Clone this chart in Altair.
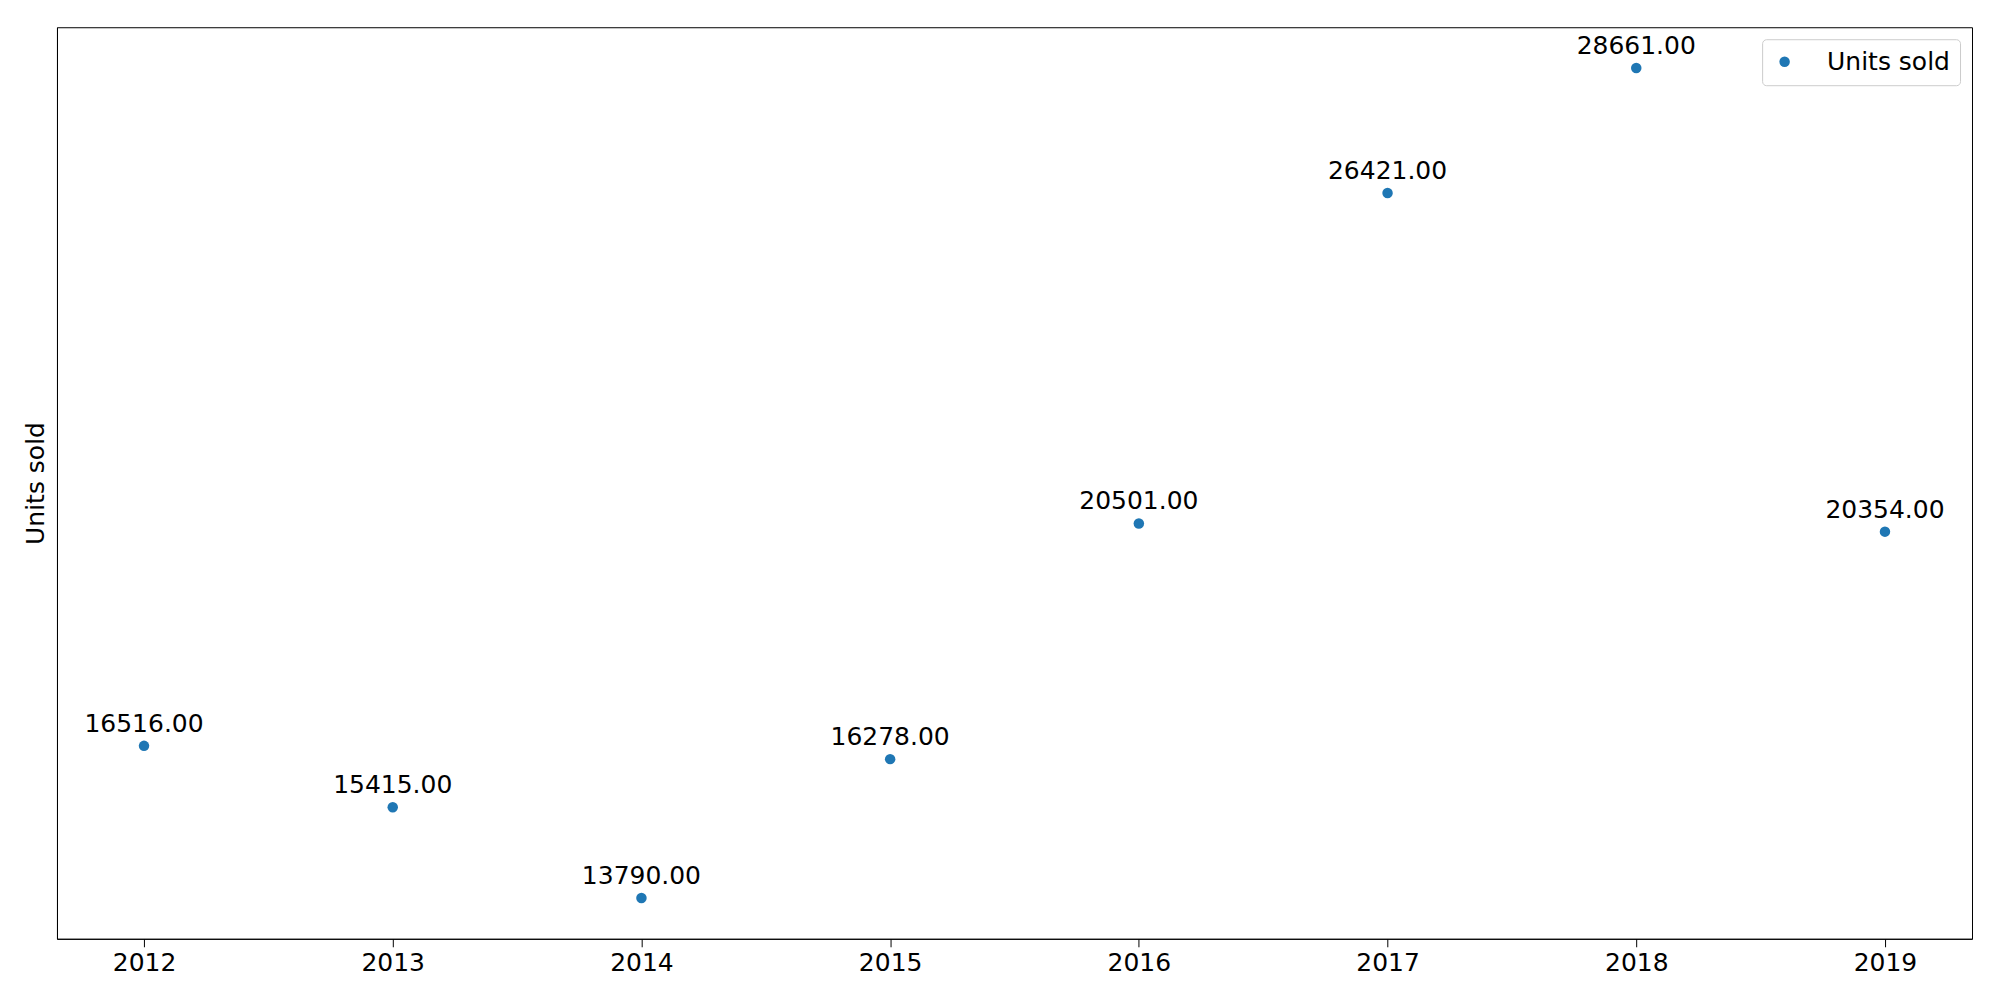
import altair as alt
import pandas as pd

years = [2012, 2013, 2014, 2015, 2016, 2017, 2018, 2019]
units = [16516, 15415, 13790, 16278, 20501, 26421, 28661, 20354]

df = pd.DataFrame({"year": years, "units": units, "series": ["Units sold"] * len(years)})

base = alt.Chart(df).encode(
    x=alt.X("year:Q", scale=alt.Scale(domain=[2011.65, 2019.35], nice=False, zero=False),
            axis=alt.Axis(values=years, format="d", grid=False, title=None,
                          labelFontSize=25, labelColor="black", tickColor="black",
                          domainColor="black", tickSize=8, labelPadding=4)),
    y=alt.Y("units:Q", scale=alt.Scale(domain=[13059, 29392], nice=False, zero=False),
            axis=alt.Axis(title="Units sold", titleFontSize=25, titleFontWeight="normal",
                          titleColor="black", labels=False, ticks=False, grid=False,
                          domainColor="black", titlePadding=8)),
)

pts = base.mark_point(filled=True, size=110, opacity=1).encode(
    color=alt.Color("series:N", scale=alt.Scale(range=["#1f77b4"]),
                    legend=alt.Legend(title=None, orient="top-right", labelFontSize=25,
                                      labelColor="black", symbolSize=110, symbolType="circle",
                                      strokeColor="#cccccc", cornerRadius=4, padding=10,
                                      fillColor="white", offset=12, labelOffset=30))
)

labels = base.mark_text(dy=-22, fontSize=25, color="black").encode(
    text=alt.Text("units:Q", format=".2f")
)

chart = (pts + labels).properties(
    width=1916, height=912,
    autosize=alt.AutoSizeParams(type="none"),
    padding={"left": 49, "top": 19, "right": 20, "bottom": 50},
).configure(font="DejaVu Sans", background="white").configure_view(stroke="black", strokeWidth=1)

chart.save("out.html", embed_options={"renderer": "svg", "actions": False})
